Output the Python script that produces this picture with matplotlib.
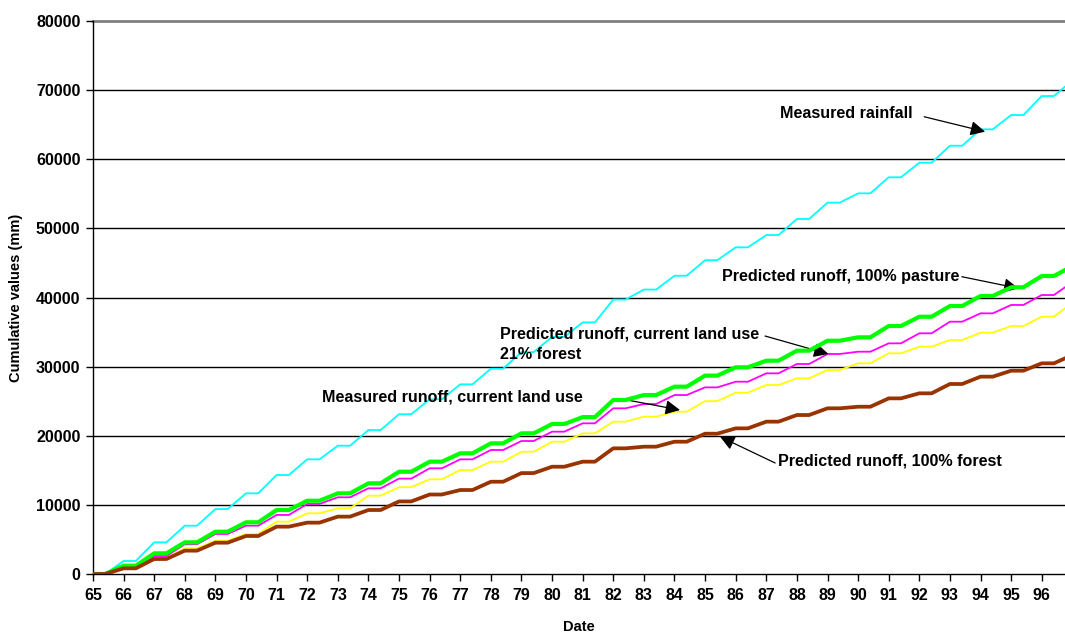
import numpy as np
import matplotlib
matplotlib.use("Agg")
import matplotlib.pyplot as plt

plt.rcParams['font.family'] = ['Liberation Sans', 'DejaVu Sans']
plt.rcParams['font.weight'] = 'bold'

# cumulative values (mm) at the start of each year (flat level), plus the end value
years = list(range(65, 97))
x_end = 96.76

rainfall = [0, 1880, 4580, 6990, 9400, 11670, 14320, 16590, 18560, 20830, 23120,
            25270, 27440, 29700, 32100, 34300, 36400, 39700, 41150, 43150, 45400,
            47260, 49040, 51360, 53720, 55070, 57390, 59500, 61960, 64330, 66400, 69150]
rainfall_end = 70500

pasture = [0, 1200, 2990, 4580, 6120, 7480, 9260, 10600, 11670, 13120, 14800,
           16250, 17460, 18900, 20350, 21700, 22700, 25170, 25890, 27100, 28700,
           29900, 30860, 32310, 33750, 34240, 35880, 37220, 38770, 40220, 41480, 43110]
pasture_end = 43980

current = [0, 970, 2600, 4300, 5790, 6990, 8540, 10130, 11100, 12400, 13800,
           15290, 16590, 17940, 19240, 20590, 21800, 23970, 24590, 25890, 27000,
           27820, 29030, 30380, 31830, 32160, 33370, 34820, 36500, 37710, 38920, 40360]
current_end = 41480

measured = [0, 820, 2270, 3720, 4820, 5790, 7570, 8780, 9500, 11330, 12560,
            13700, 15050, 16250, 17690, 19140, 20350, 22040, 22760, 23480, 25000,
            26230, 27340, 28310, 29510, 30480, 31930, 32880, 33850, 34910, 35880, 37220]
measured_end = 38440

forest = [0, 820, 2170, 3380, 4530, 5500, 6850, 7430, 8300, 9260, 10500,
          11500, 12150, 13350, 14600, 15520, 16250, 18180, 18420, 19140, 20300,
          21070, 22040, 23000, 23970, 24200, 25410, 26140, 27490, 28550, 29410, 30480]
forest_end = 31200


def stepped(vals, end_val):
    # flat dry season at the start of each year, rise through the wet season
    xs, ys = [], []
    for yr, v in zip(years, vals):
        xs += [yr, yr + 0.4]
        ys += [v, v]
    xs.append(x_end)
    ys.append(end_val)
    return xs, ys


fig = plt.figure(figsize=(10.65, 6.33), dpi=100)
ax = fig.add_axes([0.0873, 0.0932, 0.9127, 0.8736])

for y in range(10000, 80000, 10000):
    ax.axhline(y, color='black', lw=1.0, zorder=1)
ax.axhline(80000, color='#808080', lw=2.0, zorder=1, clip_on=False)

ax.plot(*stepped(rainfall, rainfall_end), color='#00FFFF', lw=1.3, zorder=3)
ax.plot(*stepped(measured, measured_end), color='#FFFF00', lw=1.3, zorder=3)
ax.plot(*stepped(current, current_end), color='#FF00FF', lw=1.3, zorder=3)
ax.plot(*stepped(pasture, pasture_end), color='#00FF00', lw=3.0, zorder=4)
ax.plot(*stepped(forest, forest_end), color='#993300', lw=2.7, zorder=4)

ax.set_xlim(65, x_end)
ax.set_ylim(0, 80000)
ax.set_xticks(years)
ax.set_yticks(range(0, 80001, 10000))
ax.tick_params(axis='both', labelsize=11.5, length=5, width=1, direction='out', color='black')
ax.tick_params(axis='x', pad=5)
ax.tick_params(axis='y', pad=4)
for s in ['top', 'right']:
    ax.spines[s].set_visible(False)
ax.spines['left'].set_linewidth(1.0)
ax.spines['bottom'].set_linewidth(1.0)

ax.set_xlabel('Date', fontsize=10.5, fontweight='bold', labelpad=12)
ax.set_ylabel('Cumulative values (mm)', fontsize=10.5, fontweight='bold', labelpad=9)

arrow = dict(arrowstyle='-|>', color='black', lw=0.9, mutation_scale=22,
             shrinkA=0, shrinkB=0)
fs = 11.6

ax.text(87.45, 66690, 'Measured rainfall', fontsize=fs, fontweight='bold', va='center')
ax.annotate('', xy=(94.15, 63990), xytext=(92.16, 66150), arrowprops=arrow)

ax.text(85.55, 43040, 'Predicted runoff, 100% pasture', fontsize=fs, fontweight='bold', va='center')
ax.annotate('', xy=(95.24, 41330), xytext=(93.39, 43010), arrowprops=arrow)

ax.text(78.3, 35800, 'Predicted runoff, current land use\n21% forest', fontsize=fs,
        fontweight='bold', va='top', linespacing=1.45)
ax.annotate('', xy=(89.03, 31830), xytext=(86.96, 34430), arrowprops=arrow)

ax.text(72.48, 25610, 'Measured runoff, current land use', fontsize=fs, fontweight='bold', va='center')
ax.annotate('', xy=(84.18, 23720), xytext=(82.28, 25320), arrowprops=arrow)

ax.text(87.39, 16350, 'Predicted runoff, 100% forest', fontsize=fs, fontweight='bold', va='center')
ax.annotate('', xy=(85.49, 19860), xytext=(87.29, 16060), arrowprops=arrow)

fig.savefig('out.png', dpi=100)
